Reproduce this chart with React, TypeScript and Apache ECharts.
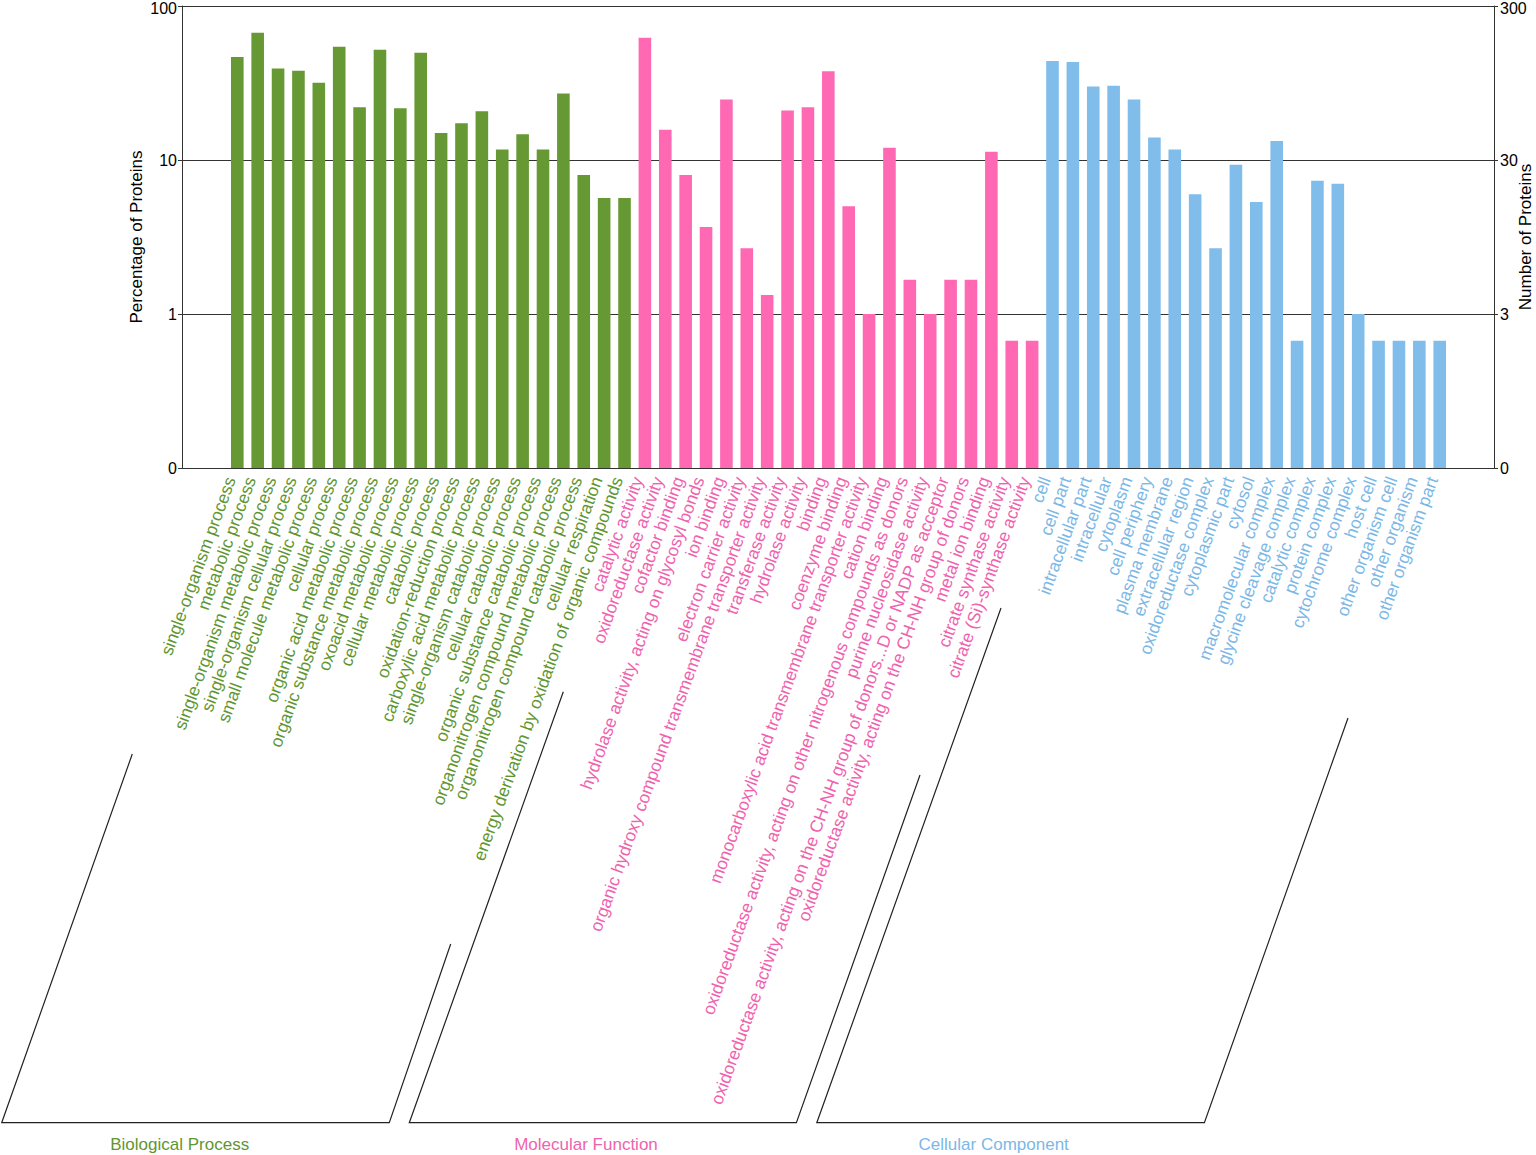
import React, { useEffect, useRef } from "react";
import * as echarts from "echarts";

const bpCategories = [
  "single-organism process",
  "metabolic process",
  "single-organism metabolic process",
  "single-organism cellular process",
  "small molecule metabolic process",
  "cellular process",
  "organic acid metabolic process",
  "organic substance metabolic process",
  "oxoacid metabolic process",
  "cellular metabolic process",
  "catabolic process",
  "oxidation-reduction process",
  "carboxylic acid metabolic process",
  "single-organism catabolic process",
  "cellular catabolic process",
  "organic substance catabolic process",
  "organonitrogen compound metabolic process",
  "organonitrogen compound catabolic process",
  "cellular respiration",
  "energy derivation by oxidation of organic compounds",
];
const bpValues = [46.7, 67.0, 39.3, 38.0, 31.7, 54.3, 22.0, 52.0, 21.7, 49.7, 15.0, 17.3, 20.7, 11.7, 14.7, 11.7, 27.0, 8.0, 5.67, 5.67];

const mfCategories = [
  "catalytic activity",
  "oxidoreductase activity",
  "cofactor binding",
  "hydrolase activity, acting on glycosyl bonds",
  "ion binding",
  "electron carrier activity",
  "organic hydroxy compound transmembrane transporter activity",
  "transferase activity",
  "hydrolase activity",
  "binding",
  "coenzyme binding",
  "monocarboxylic acid transmembrane transporter activity",
  "cation binding",
  "oxidoreductase activity, acting on other nitrogenous compounds as donors",
  "purine nucleosidase activity",
  "oxidoreductase activity, acting on the CH-NH group of donors...D or NADP as acceptor",
  "oxidoreductase activity, acting on the CH-NH group of donors",
  "metal ion binding",
  "citrate synthase activity",
  "citrate (Si)-synthase activity",
];
const mfValues = [62.3, 15.7, 8.0, 3.67, 24.7, 2.67, 1.33, 21.0, 22.0, 37.7, 5.0, 1.0, 12.0, 1.67, 1.0, 1.67, 1.67, 11.3, 0.67, 0.67];

const ccCategories = [
  "cell",
  "cell part",
  "intracellular part",
  "intracellular",
  "cytoplasm",
  "cell periphery",
  "plasma membrane",
  "extracellular region",
  "oxidoreductase complex",
  "cytoplasmic part",
  "cytosol",
  "macromolecular complex",
  "glycine cleavage complex",
  "catalytic complex",
  "protein complex",
  "cytochrome complex",
  "host cell",
  "other organism cell",
  "other organism",
  "other organism part",
];
const ccValues = [44.0, 43.3, 30.0, 30.3, 24.7, 14.0, 11.7, 6.0, 2.67, 9.33, 5.33, 13.3, 0.67, 7.33, 7.0, 1.0, 0.67, 0.67, 0.67, 0.67];

const groupNames = ["Biological Process", "Molecular Function", "Cellular Component"];
const groupColors = ["#669933", "#FF69B4", "#80BDEA"];
const groupLabelColors = ["#5F9630", "#F062AE", "#7BB8E6"];

const leftTickLabels = ["0", "1", "10", "100"];
const rightTickLabels = ["0", "3", "30", "300"];

export default function App() {
  const ref = useRef<HTMLDivElement>(null);

  useEffect(() => {
    if (!ref.current) return;
    const chart = echarts.init(ref.current, undefined, { renderer: "svg" });
    const font = "'Liberation Sans', Arial, sans-serif";

    const groups = [
      { cats: bpCategories, vals: bpValues },
      { cats: mfCategories, vals: mfValues },
      { cats: ccCategories, vals: ccValues },
    ];
    const categories: string[] = [];
    const groupOfIndex: number[] = [];
    const barData: any[] = [];
    groups.forEach((g, gi) => {
      g.cats.forEach((c, i) => {
        categories.push(c);
        groupOfIndex.push(gi);
        barData.push({ value: g.vals[i], itemStyle: { color: groupColors[gi] } });
      });
    });

    const tickIdx = (v: number) => Math.round(Math.log10(v)) + 1;
    const tickFormatter = (labels: string[]) => (v: number) => {
      const i = tickIdx(v);
      return i === labels.length - 1 ? `{top|${labels[i]}}` : labels[i];
    };
    const tickRich = {
      top: { fontSize: 16, fontFamily: "'Liberation Sans', Arial, sans-serif", color: "#000", padding: [5, 0, 0, 0] },
    };

    const lineColor = "#333";
    const plotLeft = 182;
    const plotRight = 1494;
    const plotTop = 6;
    const plotBottom = 468;
    const pitch = 20.38;
    const firstCenter = 237.3;
    const barGridLeft = firstCenter - pitch / 2;
    const barGridWidth = pitch * categories.length;

    const bracket = (pts: number[][]) => ({
      type: "polyline",
      shape: { points: pts },
      style: { stroke: "#222", lineWidth: 1.2, fill: null },
      silent: true,
    });
    const groupText = (text: string, x: number, color: string) => ({
      type: "text",
      x,
      y: 1144,
      style: {
        text,
        fill: color,
        font: `17px ${font}`,
        textAlign: "center",
        textVerticalAlign: "middle",
      },
      silent: true,
    });

    chart.setOption({
      animation: false,
      backgroundColor: "#fff",
      textStyle: { fontFamily: font },
      grid: [
        {
          left: plotLeft,
          width: plotRight - plotLeft,
          top: plotTop,
          height: plotBottom - plotTop,
          outerBoundsMode: "none",
          containLabel: false,
        },
        {
          left: barGridLeft,
          width: barGridWidth,
          top: plotTop,
          height: plotBottom - plotTop,
          outerBoundsMode: "none",
          containLabel: false,
        },
      ],
      xAxis: [
        { type: "value", gridIndex: 0, min: 0, max: 1, show: false },
        {
          type: "category",
          gridIndex: 1,
          data: categories,
          boundaryGap: true,
          axisLine: { show: false },
          axisTick: { show: false },
          splitLine: { show: false },
          axisLabel: {
            interval: 0,
            rotate: 70,
            margin: 12,
            fontSize: 17.4,
            lineHeight: 15,
            verticalAlign: "bottom",
            fontFamily: font,
            color: (_v: any, idx: number) => groupLabelColors[groupOfIndex[idx]],
          },
        },
      ],
      yAxis: [
        {
          type: "log",
          gridIndex: 0,
          position: "left",
          logBase: 10,
          min: 0.1,
          max: 100,
          name: "Percentage of Proteins",
          nameLocation: "middle",
          nameRotate: 90,
          nameGap: 37,
          nameMoveOverlap: false,
          nameTextStyle: { fontSize: 17, color: "#000", fontFamily: font },
          axisLine: { show: true, lineStyle: { color: lineColor, width: 1 } },
          axisTick: { show: true, inside: false, length: 4, lineStyle: { color: lineColor } },
          axisLabel: {
            margin: 5,
            fontSize: 16,
            color: "#000",
            fontFamily: font,
            formatter: tickFormatter(leftTickLabels),
            rich: tickRich,
          },
          splitLine: { show: true, lineStyle: { color: lineColor, width: 1 } },
        },
        {
          type: "log",
          gridIndex: 0,
          position: "right",
          logBase: 10,
          min: 0.1,
          max: 100,
          name: "Number of Proteins",
          nameLocation: "middle",
          nameRotate: 90,
          nameGap: 23,
          nameMoveOverlap: false,
          nameTextStyle: { fontSize: 17, color: "#000", fontFamily: font },
          axisLine: { show: true, lineStyle: { color: lineColor, width: 1 } },
          axisTick: { show: true, inside: false, length: 4, lineStyle: { color: lineColor } },
          axisLabel: {
            margin: 6,
            fontSize: 16,
            color: "#000",
            fontFamily: font,
            formatter: tickFormatter(rightTickLabels),
            rich: tickRich,
          },
          splitLine: { show: false },
        },
        {
          type: "log",
          gridIndex: 1,
          logBase: 10,
          min: 0.1,
          max: 100,
          startValue: 0.1,
          show: false,
          splitLine: { show: false },
        },
      ],
      series: [
        {
          type: "bar",
          xAxisIndex: 1,
          yAxisIndex: 2,
          barWidth: 12.6,
          data: barData,
          silent: true,
        },
      ],
      graphic: [
        bracket([[132.3, 754], [1.7, 1122.7], [389.3, 1122.7], [450.7, 944]]),
        bracket([[563.3, 691.7], [409.3, 1122.7], [796.4, 1122.7], [920, 775]]),
        bracket([[1001, 608], [816.8, 1122.7], [1204.4, 1122.7], [1348, 718]]),
        groupText(groupNames[0], 179.7, groupLabelColors[0]),
        groupText(groupNames[1], 586, groupLabelColors[1]),
        groupText(groupNames[2], 993.7, groupLabelColors[2]),
      ],
    });

    return () => chart.dispose();
  }, []);

  return (
    <div
      ref={ref}
      style={{ position: "absolute", left: 0, top: 0, width: 1536, height: 1155, background: "#fff" }}
    />
  );
}
